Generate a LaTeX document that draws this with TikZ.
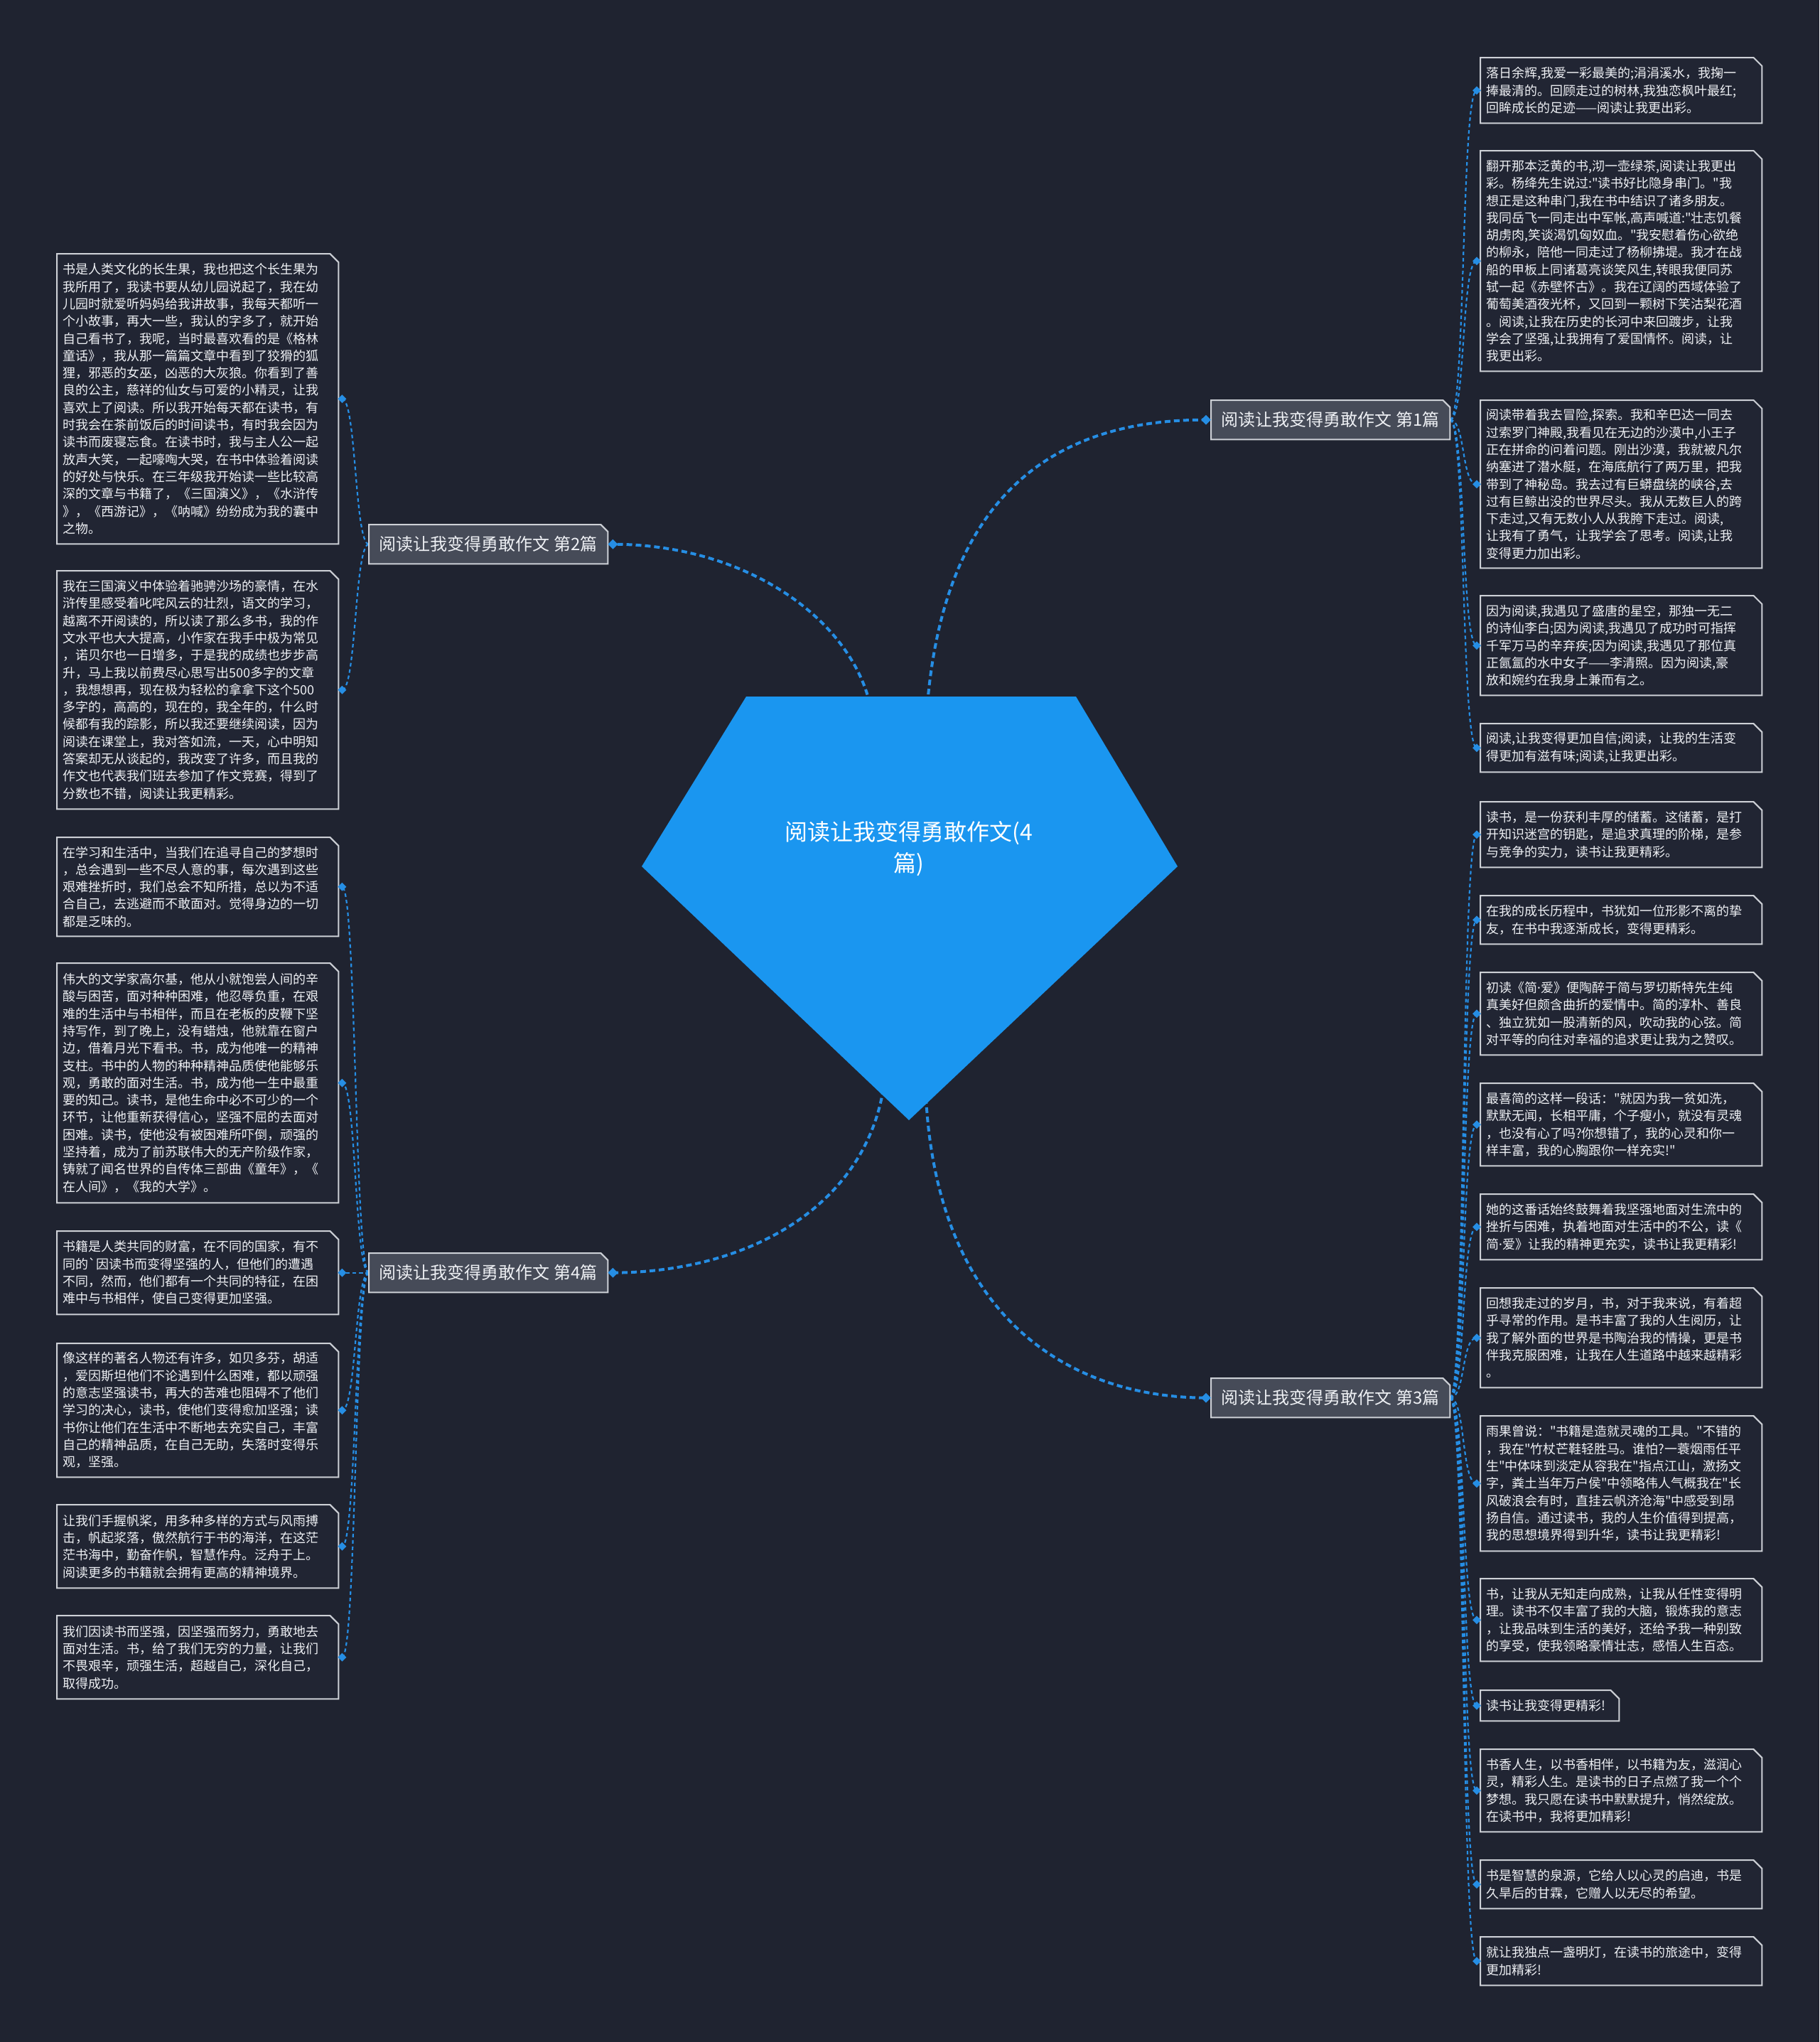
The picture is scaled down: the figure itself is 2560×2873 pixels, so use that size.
\documentclass[tikz,border=0pt]{standalone}
\usepackage{fontspec}
\newfontfamily\cjk{Noto Sans CJK SC}
\newfontfamily\latin{Noto Sans}
\setmainfont{Noto Sans CJK SC}
\usetikzlibrary{shapes.geometric}
\pgfdeclarelayer{bg}
\pgfsetlayers{bg,main}
\definecolor{bgc}{RGB}{31,35,48}
\definecolor{gem}{RGB}{26,150,240}
\definecolor{link}{RGB}{38,142,228}
\definecolor{leaffill}{RGB}{33,37,51}
\definecolor{edgec}{RGB}{205,208,214}
\definecolor{brfill}{RGB}{70,75,88}
\definecolor{txt}{RGB}{238,240,244}
\newcommand\mdot{{\latin ·}}
\tikzset{
 leaf/.style={anchor=north west, text width=380pt, inner xsep=8pt, inner ysep=4pt, align=left, text=txt, font=\cjk\fontsize{18pt}{24.3pt}\selectfont},
 branch/.style={anchor=north west, minimum width=336pt, minimum height=55pt, inner sep=0pt, text=txt, font=\cjk\fontsize{24pt}{30pt}\selectfont},
 dia/.style={shape=diamond, fill=link, inner sep=0pt, minimum size=12pt},
 mainlink/.style={draw=link, line width=4pt, dash pattern=on 8pt off 5pt},
 leaflink/.style={draw=link, line width=2.2pt, dash pattern=on 5pt off 4pt},
}
\newcommand\chambox[3]{\filldraw[fill=#2, draw=edgec, line width=2pt, line join=miter] (#1.south west) -- (#1.north west) -- ([xshift=-#3]#1.north east) -- ([yshift=-#3]#1.north east) -- (#1.south east) -- cycle;}
\begin{document}
\begin{tikzpicture}[x=1pt,y=-1pt]
\useasboundingbox (0,0) rectangle (2560,2873);
% central gem
\fill[gem] (1050,980) -- (1514,980) -- (1657,1219) -- (1279,1576) -- (903,1219) -- cycle;
\node[text=white, align=center, font=\cjk\fontsize{32pt}{44pt}\selectfont] (root) at (1279,1194) {阅读让我变得勇敢作文(4\\篇)};
\coordinate (s1) at (1305,990);
\coordinate (s2) at (1224,990);
\coordinate (s3) at (1303,1545);
\coordinate (s4) at (1243,1532);
% branches
\node[branch] (B1) at (1704,563) {阅读让我变得勇敢作文 第1篇};
\node[branch] (B2) at (519,738) {阅读让我变得勇敢作文 第2篇};
\node[branch] (B3) at (1704,1939) {阅读让我变得勇敢作文 第3篇};
\node[branch] (B4) at (519,1763) {阅读让我变得勇敢作文 第4篇};
% right leaves of B1
\node[leaf, minimum height=92pt] (R1) at (2083,81) {落日余辉,我爱一彩最美的;涓涓溪水，我掬一\\
捧最清的。回顾走过的树林,我独恋枫叶最红;\\
回眸成长的足迹——阅读让我更出彩。};
\node[leaf, minimum height=310pt] (R2) at (2083,212) {翻开那本泛黄的书,沏一壶绿茶,阅读让我更出\\
彩。杨绛先生说过:"读书好比隐身串门。"我\\
想正是这种串门,我在书中结识了诸多朋友。\\
我同岳飞一同走出中军帐,高声喊道:"壮志饥餐\\
胡虏肉,笑谈渴饥匈奴血。"我安慰着伤心欲绝\\
的柳永，陪他一同走过了杨柳拂堤。我才在战\\
船的甲板上同诸葛亮谈笑风生,转眼我便同苏\\
轼一起《赤壁怀古》。我在辽阔的西域体验了\\
葡萄美酒夜光杯，又回到一颗树下笑沽梨花酒\\
。阅读,让我在历史的长河中来回踱步，让我\\
学会了坚强,让我拥有了爱国情怀。阅读，让\\
我更出彩。};
\node[leaf, minimum height=236pt] (R3) at (2083,563) {阅读带着我去冒险,探索。我和辛巴达一同去\\
过索罗门神殿,我看见在无边的沙漠中,小王子\\
正在拼命的问着问题。刚出沙漠，我就被凡尔\\
纳塞进了潜水艇，在海底航行了两万里，把我\\
带到了神秘岛。我去过有巨蟒盘绕的峡谷,去\\
过有巨鲸出没的世界尽头。我从无数巨人的跨\\
下走过,又有无数小人从我胯下走过。阅读,\\
让我有了勇气，让我学会了思考。阅读,让我\\
变得更力加出彩。};
\node[leaf, minimum height=140pt] (R4) at (2083,838) {因为阅读,我遇见了盛唐的星空，那独一无二\\
的诗仙李白;因为阅读,我遇见了成功时可指挥\\
千军万马的辛弃疾;因为阅读,我遇见了那位真\\
正氤氲的水中女子——李清照。因为阅读,豪\\
放和婉约在我身上兼而有之。};
\node[leaf, minimum height=68pt] (R5) at (2083,1018) {阅读,让我变得更加自信;阅读，让我的生活变\\
得更加有滋有味;阅读,让我更出彩。};
% right leaves of B3
\node[leaf, minimum height=92pt] (R6) at (2083,1128) {读书，是一份获利丰厚的储蓄。这储蓄，是打\\
开知识迷宫的钥匙，是追求真理的阶梯，是参\\
与竞争的实力，读书让我更精彩。};
\node[leaf, minimum height=68pt] (R7) at (2083,1260) {在我的成长历程中，书犹如一位形影不离的挚\\
友，在书中我逐渐成长，变得更精彩。};
\node[leaf, minimum height=116pt] (R8) at (2083,1368) {初读《简\mdot 爱》便陶醉于简与罗切斯特先生纯\\
真美好但颇含曲折的爱情中。简的淳朴、善良\\
、独立犹如一股清新的风，吹动我的心弦。简\\
对平等的向往对幸福的追求更让我为之赞叹。};
\node[leaf, minimum height=116pt] (R9) at (2083,1524) {最喜简的这样一段话："就因为我一贫如洗，\\
默默无闻，长相平庸，个子瘦小，就没有灵魂\\
，也没有心了吗?你想错了，我的心灵和你一\\
样丰富，我的心胸跟你一样充实!"};
\node[leaf, minimum height=92pt] (R10) at (2083,1680) {她的这番话始终鼓舞着我坚强地面对生流中的\\
挫折与困难，执着地面对生活中的不公，读《\\
简\mdot 爱》让我的精神更充实，读书让我更精彩!};
\node[leaf, minimum height=140pt] (R11) at (2083,1812) {回想我走过的岁月，书，对于我来说，有着超\\
乎寻常的作用。是书丰富了我的人生阅历，让\\
我了解外面的世界是书陶治我的情操，更是书\\
伴我克服困难，让我在人生道路中越来越精彩\\
。};
\node[leaf, minimum height=190pt] (R12) at (2083,1992) {雨果曾说："书籍是造就灵魂的工具。"不错的\\
，我在"竹杖芒鞋轻胜马。谁怕?一蓑烟雨任平\\
生"中体味到淡定从容我在"指点江山，激扬文\\
字，粪土当年万户侯"中领略伟人气概我在"长\\
风破浪会有时，直挂云帆济沧海"中感受到昂\\
扬自信。通过读书，我的人生价值得到提高，\\
我的思想境界得到升华，读书让我更精彩!};
\node[leaf, minimum height=116pt] (R13) at (2083,2221) {书，让我从无知走向成熟，让我从任性变得明\\
理。读书不仅丰富了我的大脑，锻炼我的意志\\
，让我品味到生活的美好，还给予我一种别致\\
的享受，使我领略豪情壮志，感悟人生百态。};
\node[leaf, text width=179pt, minimum height=43pt] (R14) at (2083,2378) {读书让我变得更精彩!};
\node[leaf, minimum height=116pt] (R15) at (2083,2461) {书香人生，以书香相伴，以书籍为友，滋润心\\
灵，精彩人生。是读书的日子点燃了我一个个\\
梦想。我只愿在读书中默默提升，悄然绽放。\\
在读书中，我将更加精彩!};
\node[leaf, minimum height=68pt] (R16) at (2083,2617) {书是智慧的泉源，它给人以心灵的启迪，书是\\
久旱后的甘霖，它赠人以无尽的希望。};
\node[leaf, minimum height=68pt] (R17) at (2083,2725) {就让我独点一盏明灯，在读书的旅途中，变得\\
更加精彩!};
% left leaves of B2
\node[leaf, minimum height=408pt] (L1) at (80,357) {书是人类文化的长生果，我也把这个长生果为\\
我所用了，我读书要从幼儿园说起了，我在幼\\
儿园时就爱听妈妈给我讲故事，我每天都听一\\
个小故事，再大一些，我认的字多了，就开始\\
自己看书了，我呢，当时最喜欢看的是《格林\\
童话》，我从那一篇篇文章中看到了狡猾的狐\\
狸，邪恶的女巫，凶恶的大灰狼。你看到了善\\
良的公主，慈祥的仙女与可爱的小精灵，让我\\
喜欢上了阅读。所以我开始每天都在读书，有\\
时我会在茶前饭后的时间读书，有时我会因为\\
读书而废寝忘食。在读书时，我与主人公一起\\
放声大笑，一起嚎啕大哭，在书中体验着阅读\\
的好处与快乐。在三年级我开始读一些比较高\\
深的文章与书籍了，《三国演义》，《水浒传\\
》，《西游记》，《呐喊》纷纷成为我的囊中\\
之物。};
\node[leaf, minimum height=335pt] (L2) at (80,803) {我在三国演义中体验着驰骋沙场的豪情，在水\\
浒传里感受着叱咤风云的壮烈，语文的学习，\\
越离不开阅读的，所以读了那么多书，我的作\\
文水平也大大提高，小作家在我手中极为常见\\
，诺贝尔也一日增多，于是我的成绩也步步高\\
升，马上我以前费尽心思写出500多字的文章\\
，我想想再，现在极为轻松的拿拿下这个500\\
多字的，高高的，现在的，我全年的，什么时\\
候都有我的踪影，所以我还要继续阅读，因为\\
阅读在课堂上，我对答如流，一天，心中明知\\
答案却无从谈起的，我改变了许多，而且我的\\
作文也代表我们班去参加了作文竞赛，得到了\\
分数也不错，阅读让我更精彩。};
% left leaves of B4
\node[leaf, minimum height=139pt] (L3) at (80,1178) {在学习和生活中，当我们在追寻自己的梦想时\\
，总会遇到一些不尽人意的事，每次遇到这些\\
艰难挫折时，我们总会不知所措，总以为不适\\
合自己，去逃避而不敢面对。觉得身边的一切\\
都是乏味的。};
\node[leaf, minimum height=337pt] (L4) at (80,1355) {伟大的文学家高尔基，他从小就饱尝人间的辛\\
酸与困苦，面对种种困难，他忍辱负重，在艰\\
难的生活中与书相伴，而且在老板的皮鞭下坚\\
持写作，到了晚上，没有蜡烛，他就靠在窗户\\
边，借着月光下看书。书，成为他唯一的精神\\
支柱。书中的人物的种种精神品质使他能够乐\\
观，勇敢的面对生活。书，成为他一生中最重\\
要的知己。读书，是他生命中必不可少的一个\\
环节，让他重新获得信心，坚强不屈的去面对\\
困难。读书，使他没有被困难所吓倒，顽强的\\
坚持着，成为了前苏联伟大的无产阶级作家，\\
铸就了闻名世界的自传体三部曲《童年》，《\\
在人间》，《我的大学》。};
\node[leaf, minimum height=117pt] (L5) at (80,1732) {书籍是人类共同的财富，在不同的国家，有不\\
同的\textasciigrave 因读书而变得坚强的人，但他们的遭遇\\
不同，然而，他们都有一个共同的特征，在困\\
难中与书相伴，使自己变得更加坚强。};
\node[leaf, minimum height=188pt] (L6) at (80,1890) {像这样的著名人物还有许多，如贝多芬，胡适\\
，爱因斯坦他们不论遇到什么困难，都以顽强\\
的意志坚强读书，再大的苦难也阻碍不了他们\\
学习的决心，读书，使他们变得愈加坚强；读\\
书你让他们在生活中不断地去充实自己，丰富\\
自己的精神品质，在自己无助，失落时变得乐\\
观，坚强。};
\node[leaf, minimum height=117pt] (L7) at (80,2117) {让我们手握帆桨，用多种多样的方式与风雨搏\\
击，帆起浆落，傲然航行于书的海洋，在这茫\\
茫书海中，勤奋作帆，智慧作舟。泛舟于上。\\
阅读更多的书籍就会拥有更高的精神境界。};
\node[leaf, minimum height=117pt] (L8) at (80,2273) {我们因读书而坚强，因坚强而努力，勇敢地去\\
面对生活。书，给了我们无穷的力量，让我们\\
不畏艰辛，顽强生活，超越自己，深化自己，\\
取得成功。};
% diamonds
\node[dia, minimum size=14pt] (dB1) at ([xshift=-7pt]B1.west) {};
\node[dia, minimum size=14pt] (dB3) at ([xshift=-7pt]B3.west) {};
\node[dia, minimum size=14pt] (dB2) at ([xshift=7pt]B2.east) {};
\node[dia, minimum size=14pt] (dB4) at ([xshift=7pt]B4.east) {};
\foreach \n in {R1,R2,R3,R4,R5,R6,R7,R8,R9,R10,R11,R12,R13,R14,R15,R16,R17}
  {\node[dia] (d\n) at ([xshift=-5pt]\n.west) {};}
\foreach \n in {L1,L2,L3,L4,L5,L6,L7,L8}
  {\node[dia] (d\n) at ([xshift=5pt]\n.east) {};}
% background layer: canvas, connectors, boxes
\begin{pgfonlayer}{bg}
\fill[bgc] (0,0) rectangle (2560,2873);
\draw[mainlink] (s1) .. controls (1330,700) and (1480,590) .. (dB1.center);
\draw[mainlink] (s2) .. controls (1195,870) and (1050,766) .. (dB2.center);
\draw[mainlink] (s3) .. controls (1320,1850) and (1500,1966) .. (dB3.center);
\draw[mainlink] (s4) .. controls (1215,1700) and (1050,1790) .. (dB4.center);
\foreach \n in {R1,R2,R3,R4,R5}
  {\draw[leaflink] (B1.east) .. controls +(22,0) and +(-22,0) .. (d\n.center);}
\foreach \n in {R6,R7,R8,R9,R10,R11,R12,R13,R14,R15,R16,R17}
  {\draw[leaflink] (B3.east) .. controls +(22,0) and +(-22,0) .. (d\n.center);}
\foreach \n in {L1,L2}
  {\draw[leaflink] (B2.west) .. controls +(-20,0) and +(20,0) .. (d\n.center);}
\foreach \n in {L3,L4,L5,L6,L7,L8}
  {\draw[leaflink] (B4.west) .. controls +(-20,0) and +(20,0) .. (d\n.center);}
\foreach \n in {R1,R2,R3,R4,R5,R6,R7,R8,R9,R10,R11,R12,R13,R14,R15,R16,R17,L1,L2,L3,L4,L5,L6,L7,L8}
  {\chambox{\n}{leaffill}{12pt}}
\foreach \n in {B1,B2,B3,B4}
  {\chambox{\n}{brfill}{10pt}}
\end{pgfonlayer}
\end{tikzpicture}
\end{document}
